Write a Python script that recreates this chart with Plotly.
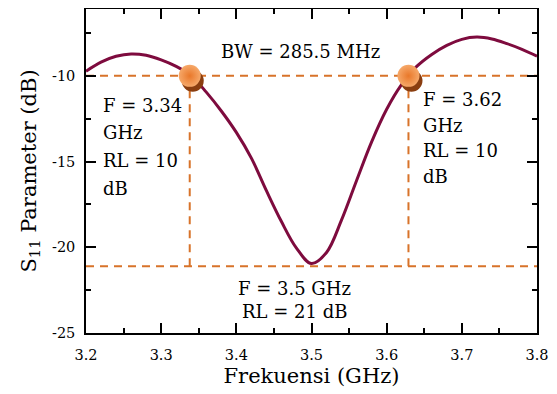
import plotly.graph_objects as go

# ---- data ----
freq = [3.20, 3.22, 3.24, 3.26, 3.28, 3.30, 3.32, 3.34, 3.36, 3.38, 3.40,
        3.42, 3.44, 3.46, 3.48, 3.50, 3.52, 3.54, 3.56, 3.58, 3.60, 3.62,
        3.64, 3.66, 3.68, 3.70, 3.72, 3.74, 3.76, 3.78, 3.80]
s11 = [-9.73, -9.20, -8.86, -8.72, -8.80, -9.07, -9.45, -10.0, -10.95, -12.05, -13.3,
       -14.8, -16.7, -18.5, -20.05, -20.95, -20.3, -18.4, -16.1, -13.85, -11.95, -10.5,
       -9.45, -8.75, -8.22, -7.87, -7.74, -7.85, -8.12, -8.45, -8.85]

f_low, f_high = 3.338, 3.629      # -10 dB crossing frequencies (marker positions)
rl_level = -10.0                  # -10 dB reference
min_level = -21.1                 # minimum reference line
x_range = [3.2, 3.8]
y_range = [-25, -6.1]

x_tickvals = [3.2, 3.3, 3.4, 3.5, 3.6, 3.7, 3.8]
x_ticktext = ["3.2", "3.3", "3.4", "3.5", "3.6", "3.7", "3.8"]
y_tickvals = [-25, -20, -15, -10]
y_ticktext = ["-25", "-20", "-15", "-10"]

left_lines = ["F = 3.34", "GHz", "RL = 10", "dB"]
right_lines = ["F = 3.62", "GHz", "RL = 10", "dB"]
bottom_lines = ["F = 3.5 GHz", "RL = 21 dB"]
bw_text = "BW = 285.5 MHz"

FONT = "DejaVu Serif"
CURVE = "#7E0B3E"
DASH = "#D8732A"

fig = go.Figure()

dash_style = dict(color=DASH, width=2, dash="8px,6px")
fig.add_trace(go.Scatter(x=x_range, y=[rl_level, rl_level], mode="lines",
                         line=dash_style, hoverinfo="skip", showlegend=False))
fig.add_trace(go.Scatter(x=x_range, y=[min_level, min_level], mode="lines",
                         line=dash_style, hoverinfo="skip", showlegend=False))
for fv in (f_low, f_high):
    fig.add_trace(go.Scatter(x=[fv, fv], y=[min_level, rl_level], mode="lines",
                             line=dash_style, hoverinfo="skip", showlegend=False))

fig.add_trace(go.Scatter(x=freq, y=s11, mode="lines",
                         line=dict(color=CURVE, width=3, shape="spline", smoothing=1.0),
                         showlegend=False))

sx, sy = 0.004, 0.28
fig.add_trace(go.Scatter(x=[f_low + sx, f_high + sx], y=[rl_level - sy, rl_level - sy],
                         mode="markers",
                         marker=dict(size=22, color="#8A3E10", line=dict(width=0)),
                         showlegend=False, hoverinfo="skip"))
fig.add_trace(go.Scatter(x=[f_low, f_high], y=[rl_level, rl_level], mode="markers",
                         marker=dict(size=22, color="#F6A869", line=dict(width=0),
                                     gradient=dict(type="radial", color="#E9782A")),
                         showlegend=False))

ann_font = dict(family=FONT, size=18, color="black")
annotations = [dict(x=3.4847, y=-8.56, text=bw_text, xanchor="center")]
left_y = [-11.70, -13.32, -14.94, -16.55]
right_y = [-11.37, -12.87, -14.37, -15.89]
for t, yy in zip(left_lines, left_y):
    annotations.append(dict(x=3.2196, y=yy, text=t, xanchor="left"))
for t, yy in zip(right_lines, right_y):
    annotations.append(dict(x=3.6452, y=yy, text=t, xanchor="left"))
annotations.append(dict(x=3.478, y=-22.40, text=bottom_lines[0], xanchor="center"))
annotations.append(dict(x=3.477, y=-23.76, text=bottom_lines[1], xanchor="center"))
for a in annotations:
    a.update(xref="x", yref="y", yanchor="middle", showarrow=False, font=ann_font)

axis_common = dict(
    showgrid=False, zeroline=False, showline=True, linecolor="black", linewidth=1.5,
    mirror="ticks", ticks="inside", ticklen=10, tickwidth=1.5, tickcolor="black",
    automargin=False, tickfont=dict(family=FONT, size=14.5, color="black"),
)

# the page body adds an 8px offset; size the figure so the plot area lands where the reference has it
fig.update_layout(
    width=549, height=386,
    margin=dict(l=78, r=20, t=1, b=61),
    paper_bgcolor="white", plot_bgcolor="white",
    font=dict(family=FONT, color="black"),
    annotations=annotations,
    xaxis=dict(range=x_range, tickvals=x_tickvals, ticktext=x_ticktext,
               minor=dict(ticks="inside", ticklen=5, tickwidth=1.5, tickcolor="black",
                          dtick=0.05, tick0=3.2),
               title=dict(text="Frekuensi (GHz)", font=dict(family=FONT, size=21, color="black"),
                          standoff=6),
               ticklabelstandoff=8,
               **axis_common),
    yaxis=dict(range=y_range, tickvals=y_tickvals, ticktext=y_ticktext,
               minor=dict(ticks="inside", ticklen=5, tickwidth=1.5, tickcolor="black",
                          dtick=2.5, tick0=-25),
               title=dict(text="S<sub>11</sub> Parameter (dB)",
                          font=dict(family=FONT, size=21, color="black"), standoff=10),
               ticklabelstandoff=6,
               **axis_common),
)

fig.write_html("out.html")
